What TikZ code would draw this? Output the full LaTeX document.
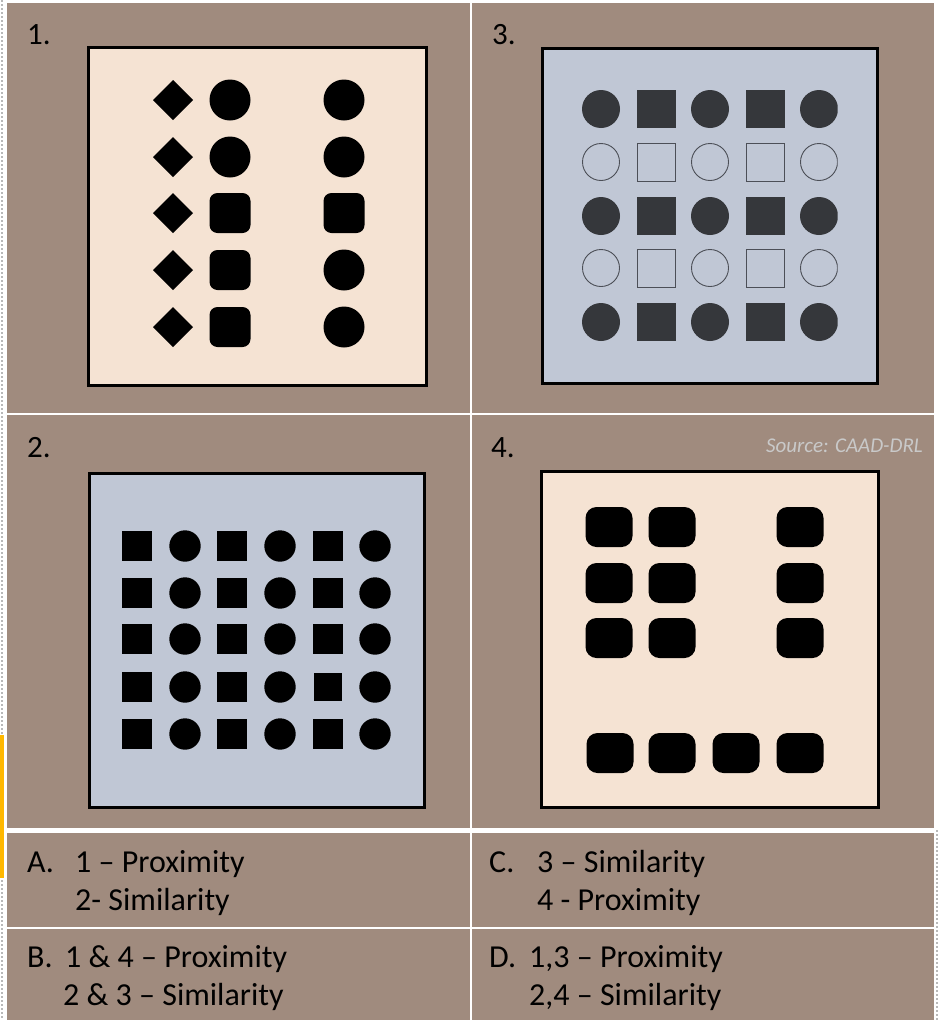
\documentclass[tikz,border=0pt]{standalone}
\usepackage{fontspec}
\setmainfont{Carlito}

\definecolor{bgbrown}{HTML}{A08B7E}
\definecolor{peach}{HTML}{F5E3D3}
\definecolor{paleblue}{HTML}{C0C7D5}
\definecolor{darkgray}{HTML}{35373B}
\definecolor{edgegray}{HTML}{4C4F57}
\definecolor{srcgray}{HTML}{C9C9C9}
\definecolor{barorange}{HTML}{FFB800}

\tikzset{
  celllab/.style={font=\fontsize{31}{36}\selectfont, anchor=base west, inner sep=0pt},
  optlab/.style={font=\fontsize{32}{38}\selectfont, anchor=base west, inner sep=0pt},
  srclab/.style={font=\fontsize{21}{25}\selectfont\itshape, text=srcgray, anchor=base east, inner sep=0pt},
  frame/.style={draw=black, line width=3pt},
  grid/.style={draw=white, line width=2.5pt}
}

\begin{document}
\begin{tikzpicture}[x=1pt,y=-1pt, line cap=butt, line join=miter]

\useasboundingbox (0,0) rectangle (938,1020);
\fill[white] (0,0) rectangle (938,1020);

% 背景与白色分隔线
\fill[bgbrown] (7,3) rectangle (934,1020);
\draw[grid] (471,3) -- (471,1020);
\draw[grid] (7,414) -- (934,414);
\draw[grid, line width=5pt] (7,830.5) -- (934,830.5);
\draw[grid] (7,928) -- (934,928);

% 左右两侧的点线与橙色条
\draw[gray!55, line width=1.6pt, dash pattern=on 2pt off 2pt] (2,0) -- (2,1020);
\draw[gray!55, line width=1.6pt, dash pattern=on 2pt off 2pt] (937,830) -- (937,1020);
\fill[barorange] (0,735) rectangle (4,878);

% 四个图框
\coordinate (f1a) at (88,47);   \coordinate (f1b) at (426,385);
\coordinate (f3a) at (542,48);  \coordinate (f3b) at (877,383);
\coordinate (f2a) at (89,473);  \coordinate (f2b) at (424,807);
\coordinate (f4a) at (541,471); \coordinate (f4b) at (878,807);

\draw[frame, fill=peach]    (f1a) rectangle (f1b);
\draw[frame, fill=paleblue] (f3a) rectangle (f3b);
\draw[frame, fill=paleblue] (f2a) rectangle (f2b);
\draw[frame, fill=peach]    (f4a) rectangle (f4b);

% 图 1：菱形、圆、圆角方块
\foreach \y in {100,157,213,270,327}
  \fill (173,\y-20) -- (193,\y) -- (173,\y+20) -- (153,\y) -- cycle;
\foreach \y in {100,157}
  \fill (230,\y) circle (20.5);
\foreach \y in {213,270,327}
  \fill[rounded corners=8pt] (209.5,\y-20) rectangle (250.5,\y+20);
\foreach \y in {100,157,270,327}
  \fill (344,\y) circle (20.5);
\fill[rounded corners=8pt] (323.5,193) rectangle (364.5,233);

% 图 3：实心与空心交替
\begin{scope}
\clip (542,48) rectangle (837.5,383);
\foreach \y in {109,216,322} {
  \foreach \x in {601,710,819}
    \fill[darkgray] (\x,\y) circle (19);
  \foreach \x in {656,765}
    \fill[darkgray] (\x-19.5,\y-19) rectangle (\x+19.5,\y+19);
}
\foreach \y in {162,268} {
  \foreach \x in {601,710,819}
    \draw[edgegray, line width=0.9pt] (\x,\y) circle (18.5);
  \foreach \x in {656,765}
    \draw[edgegray, line width=0.9pt] (\x-19,\y-19) rectangle (\x+19,\y+19);
}
\end{scope}

% 图 2：方块与圆交替的列
\foreach \y in {546,593,639,687,734} {
  \foreach \x in {137,232,328}
    \fill (\x-15,\y-15) rectangle (\x+15,\y+15);
  \foreach \x in {185,280,375}
    \fill (\x,\y) circle (15.7);
}
\fill[paleblue] (313,672) rectangle (343,702);
\fill (314,673) rectangle (342,701);

% 图 4：圆角方块分组
\foreach \x in {609,672} {
  \foreach \y in {527,583,638}
    \fill[rounded corners=11pt] (\x-23.5,\y-20) rectangle (\x+23.5,\y+20);
}
\foreach \y in {527,583,638}
  \fill[rounded corners=11pt] (800-23.5,\y-20) rectangle (800+23.5,\y+20);
\foreach \x in {610,672,736,800}
  \fill[rounded corners=11pt] (\x-23.5,733) rectangle (\x+23.5,773);

% 编号
\node[celllab] (lab1) at (27,44)  {1.};
\node[celllab] (lab3) at (492,44) {3.};
\node[celllab] (lab2) at (27,457) {2.};
\node[celllab] (lab4) at (491,457) {4.};
\node[srclab]  (src)  at (923,452) {Source: CAAD-DRL};

% 选项
\node[optlab] (optA)  at (27,872)  {A.};
\node[optlab] (optA1) at (75,872)  {1 – Proximity};
\node[optlab] (optA2) at (75,910)  {2- Similarity};

\node[optlab] (optB)  at (27,967)  {B.};
\node[optlab] (optB1) at (65,967)  {1 \& 4 – Proximity};
\node[optlab] (optB2) at (63,1005) {2 \& 3 – Similarity};

\node[optlab] (optC)  at (489,872) {C.};
\node[optlab] (optC1) at (537,872) {3 – Similarity};
\node[optlab] (optC2) at (537,910) {4 - Proximity};

\node[optlab] (optD)  at (489,967) {D.};
\node[optlab] (optD1) at (529,967) {1,3 – Proximity};
\node[optlab] (optD2) at (529,1005) {2,4 – Similarity};

\end{tikzpicture}
\end{document}
